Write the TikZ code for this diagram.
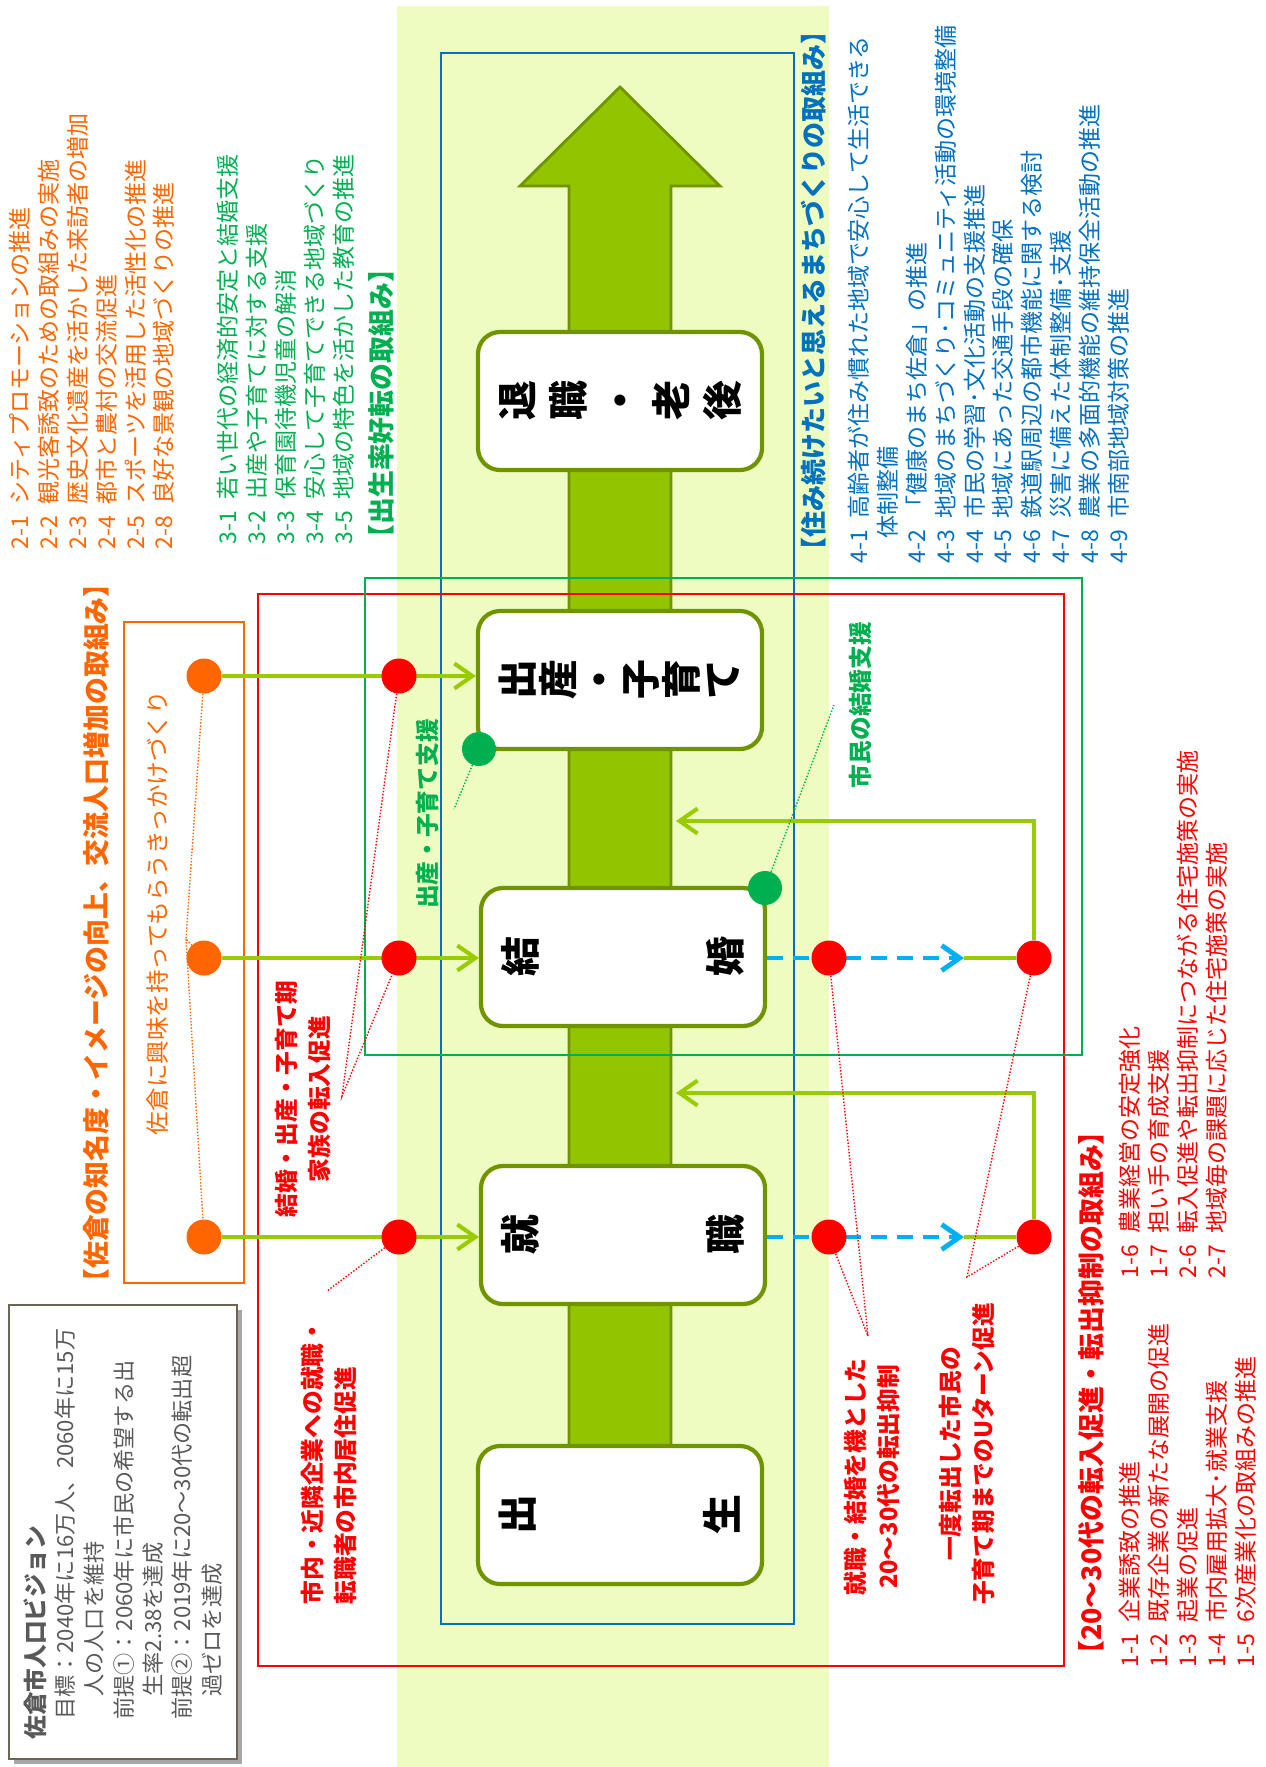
\documentclass[tikz,border=0pt]{standalone}
\usepackage{fontspec}
\usepackage{graphicx}
\setmainfont{Noto Sans CJK JP}
\usetikzlibrary{calc,arrows.meta}

\definecolor{bandgreen}{RGB}{238,252,194}
\definecolor{arrowfill}{RGB}{146,196,0}
\definecolor{olive}{RGB}{112,148,0}
\definecolor{linkgreen}{RGB}{153,204,0}
\definecolor{sakuraorange}{RGB}{255,102,0}
\definecolor{sakurablue}{RGB}{0,112,192}
\definecolor{sakuragreen}{RGB}{0,176,80}
\definecolor{dashblue}{RGB}{0,176,240}
\definecolor{visiongray}{RGB}{89,89,89}
\definecolor{visionframe}{RGB}{110,100,85}

\newcommand{\turnchar}[1]{\rotatebox{90}{\rule[-0.12em]{0pt}{1em}#1}}

\tikzset{
  stage/.style={draw=olive, line width=2.4pt, fill=white, rounded corners=4.4mm,
    minimum width=56.8mm, minimum height=27.6mm, inner sep=0pt,
    font=\fontsize{22.7}{24}\selectfont\bfseries},
  link/.style={draw=linkgreen, line width=2.3pt},
  linktip/.style={-{Straight Barb[length=3.6mm,width=5mm]}},
  dashlink/.style={draw=dashblue, line width=2.8pt, dash pattern=on 3.2mm off 2mm,
    -{Straight Barb[length=3.6mm,width=5mm]}},
  odot/.style={circle, fill=sakuraorange, minimum size=7mm, inner sep=0pt},
  rdot/.style={circle, fill=red, minimum size=7mm, inner sep=0pt},
  gdot/.style={circle, fill=sakuragreen, minimum size=6.8mm, inner sep=0pt},
  pointer/.style={densely dotted, line width=0.8pt},
  lbl/.style={rotate=90, font=\fontsize{13.5}{18.5}\selectfont\bfseries},
  listtxt/.style={rotate=90, anchor=north west, align=left, inner sep=0pt,
    font=\fontsize{13.1}{16.4}\selectfont},
  headtxt/.style={rotate=90, inner sep=0pt, font=\fontsize{15.3}{17}\selectfont\bfseries}
}

\begin{document}
\begin{tikzpicture}[x=0.2mm,y=-0.2mm]
\useasboundingbox (0,0) rectangle (1266,1767);

% background band
\fill[bandgreen] (397,6) rectangle (829,1767);

% growth arrow
\draw[olive, line width=1.6pt, fill=arrowfill] (569,1460) -- (569,186) -- (520,186) -- (620,87)
  -- (720,186) -- (671,186) -- (671,1460) -- cycle;

% frames of the fields
\draw[sakurablue, line width=0.9pt] (441,53) rectangle (794,1624);
\draw[red, line width=0.9pt] (258,594) rectangle (1064,1666);
\draw[sakuragreen, line width=0.9pt] (365,578) rectangle (1082,1055);
\draw[sakuraorange, line width=0.9pt] (124,622) rectangle (244,1283);

% life stages
\node[stage] (rougo) at (620,401) {\makebox[49mm]{\turnchar{退}\hfill\turnchar{職}\hfill\turnchar{・}\hfill\turnchar{老}\hfill\turnchar{後}}};
\node[stage] (kosodate) at (620,680) {\makebox[49mm]{\turnchar{出}\hfill\turnchar{産}\hfill\turnchar{・}\hfill\turnchar{子}\hfill\turnchar{育}\hfill\turnchar{て}}};
\node[stage] (kekkon) at (623,957) {\makebox[49mm]{\turnchar{結}\hfill\turnchar{婚}}};
\node[stage] (shushoku) at (623,1235) {\makebox[49mm]{\turnchar{就}\hfill\turnchar{職}}};
\node[stage] (shussei) at (620,1515) {\makebox[49mm]{\turnchar{出}\hfill\turnchar{生}}};

% moving in from outside
\node[odot] (o1) at (204,676) {};
\node[odot] (o2) at (204,958) {};
\node[odot] (o3) at (204,1237) {};
\draw[link, linktip] (o1) -- (kosodate.west |- o1);
\draw[link, linktip] (o2) -- (kekkon.west |- o2);
\draw[link, linktip] (o3) -- (shushoku.west |- o3);
\node[rdot] (in1) at (399,676) {};
\node[rdot] (in2) at (399,958) {};
\node[rdot] (in3) at (399,1237) {};

% moving out and coming back
\coordinate (u1) at (964,958);
\coordinate (u2) at (964,1237);
\coordinate (ret1) at (676,821);
\coordinate (ret2) at (676,1093);
\node[rdot] (back1) at (1034,958) {};
\node[rdot] (back2) at (1034,1237) {};
\draw[dashlink] (kekkon.east |- u1) -- (u1);
\draw[dashlink] (shushoku.east |- u2) -- (u2);
\draw[link] (u1) -- (back1);
\draw[link] (u2) -- (back2);
\draw[link, linktip] (back1) |- (ret1);
\draw[link, linktip] (back2) |- (ret2);
\node[rdot] (stay1) at (829,958) {};
\node[rdot] (stay2) at (829,1237) {};

% support points
\node[gdot] (g1) at (479,749) {};
\node[gdot] (g2) at (765,888) {};

% pointer lines
\coordinate (gp1) at (454,809);
\coordinate (gp2) at (834,705);
\coordinate (op) at (186,939);
\coordinate (rp1) at (342,1096);
\coordinate (rp2) at (327,1291);
\coordinate (rp3) at (868,1336);
\coordinate (rp4) at (967,1277);
\draw[pointer, sakuragreen] (g1) -- (gp1);
\draw[pointer, sakuragreen] (g2) -- (gp2);
\draw[pointer, sakuraorange] (o1) -- (op) -- (o2);
\draw[pointer, sakuraorange] (op) -- (o3);
\draw[pointer, red] (in1) -- (rp1) -- (in2);
\draw[pointer, red] (in3) -- (rp2);
\draw[pointer, red] (stay1) -- (rp3) -- (stay2);
\draw[pointer, red] (back1) -- (rp4) -- (back2);

% labels
\node[lbl, text=sakuragreen] (lblkosodate) at (428,814) {出産・子育て支援};
\node[lbl, text=sakuragreen] (lblkekkon) at (860,705) {市民の結婚支援};
\node[lbl, text=red, align=center] (lbltennyu) at (303,1099) {結婚・出産・子育て期\\家族の転入促進};
\node[lbl, text=red, align=left] (lblkyoju) at (329,1462) {市内・近隣企業への就職・\\転職者の市内居住促進};
\node[lbl, text=red, align=center] (lblyokusei) at (872,1477) {就職・結婚を機とした\\20～30代の転出抑制};
\node[lbl, text=red, align=center] (lbluturn) at (967,1454) {一度転出した市民の\\子育て期までのUターン促進};
\node[rotate=90, text=sakuraorange, font=\fontsize{13.4}{16}\selectfont] (kikkake) at (158,913) {佐倉に興味を持ってもらうきっかけづくり};

% orange field
\node[headtxt, text=sakuraorange] (headorange) at (96,933) {【佐倉の知名度・イメージの向上、交流人口増加の取組み】};
\node[listtxt, text=sakuraorange] (listorange) at (9,550) {2-1\hspace{0.5em}シティプロモーションの推進\\
2-2\hspace{0.5em}観光客誘致のための取組みの実施\\
2-3\hspace{0.5em}歴史文化遺産を活かした来訪者の増加\\
2-4\hspace{0.5em}都市と農村の交流促進\\
2-5\hspace{0.5em}スポーツを活用した活性化の推進\\
2-8\hspace{0.5em}良好な景観の地域づくりの推進};

% green field
\node[listtxt, text=sakuragreen] (listgreen) at (217,545) {3-1\hspace{0.5em}若い世代の経済的安定と結婚支援\\
3-2\hspace{0.5em}出産や子育てに対する支援\\
3-3\hspace{0.5em}保育園待機児童の解消\\
3-4\hspace{0.5em}安心して子育てできる地域づくり\\
3-5\hspace{0.5em}地域の特色を活かした教育の推進};
\node[headtxt, text=sakuragreen, anchor=west] (headgreen) at (381,552) {【出生率好転の取組み】};

% blue field
\node[headtxt, text=sakurablue, anchor=west, font=\fontsize{14.8}{17}\selectfont\bfseries] (headblue) at (814,564) {【住み続けたいと思えるまちづくりの取組み】};
\node[listtxt, text=sakurablue] (listblue) at (848,564) {4-1\hspace{0.5em}高齢者が住み慣れた地域で安心して生活できる\\
\hspace*{1.1em}体制整備\\
4-2\hspace{0.5em}「健康のまち佐倉」の推進\\
4-3\hspace{0.5em}地域のまちづくり･コミュニティ活動の環境整備\\
4-4\hspace{0.5em}市民の学習･文化活動の支援推進\\
4-5\hspace{0.5em}地域にあった交通手段の確保\\
4-6\hspace{0.5em}鉄道駅周辺の都市機能に関する検討\\
4-7\hspace{0.5em}災害に備えた体制整備･支援\\
4-8\hspace{0.5em}農業の多面的機能の維持保全活動の推進\\
4-9\hspace{0.5em}市南部地域対策の推進};

% red field
\node[headtxt, text=red, anchor=west] (headred) at (1091,1668) {【20～30代の転入促進・転出抑制の取組み】};
\node[listtxt, text=red] (listred) at (1119,1668) {1-1\hspace{0.5em}企業誘致の推進\\
1-2\hspace{0.5em}既存企業の新たな展開の促進\\
1-3\hspace{0.5em}起業の促進\\
1-4\hspace{0.5em}市内雇用拡大･就業支援\\
1-5\hspace{0.5em}6次産業化の取組みの推進};
\node[listtxt, text=red] (listredtwo) at (1119,1279) {1-6\hspace{0.5em}農業経営の安定強化\\
1-7\hspace{0.5em}担い手の育成支援\\
2-6\hspace{0.5em}転入促進や転出抑制につながる住宅施策の実施\\
2-7\hspace{0.5em}地域毎の課題に応じた住宅施策の実施};

% population vision
\fill[gray!70] (14,1310) rectangle (242,1764);
\draw[visionframe, line width=1pt, fill=white] (9,1305) rectangle (237,1759);
\node[listtxt, text=visiongray, font=\fontsize{12.6}{16.7}\selectfont] (vision) at (23,1740) {\textbf{\fontsize{13.5}{16.7}\selectfont 佐倉市人口ビジョン}\\
\hspace*{0.9em}目標：2040年に16万人、2060年に15万\\
\hspace*{1.95em}人の人口を維持\\
\hspace*{0.9em}前提①：2060年に市民の希望する出\\
\hspace*{1.95em}生率2.38を達成\\
\hspace*{0.9em}前提②：2019年に20～30代の転出超\\
\hspace*{1.95em}過ゼロを達成};
\end{tikzpicture}
\end{document}
